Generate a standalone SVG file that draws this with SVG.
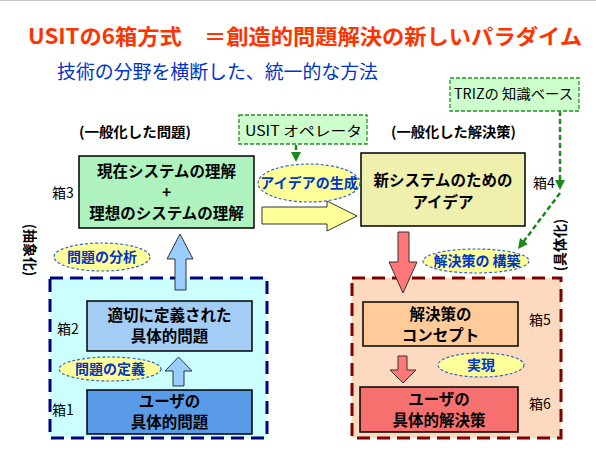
<svg xmlns="http://www.w3.org/2000/svg" width="596" height="450" viewBox="0 0 596 450">
<style>
text{font-family:"Noto Sans CJK JP","Liberation Sans",sans-serif;}
.bx{stroke:#000;stroke-width:1.5;}
.bt{font-size:15.5px;font-weight:bold;fill:#000;text-anchor:middle;}
.lb{font-size:14px;fill:#000;}
.hd{font-size:14px;font-weight:bold;fill:#000;}
.el{fill:#ffff99;stroke:#3366cc;stroke-width:1.2;stroke-dasharray:3 2;}
.et{font-size:14px;font-weight:bold;fill:#0033cc;text-anchor:middle;}
.gb{fill:#ccffcc;stroke:#2a8a2a;stroke-width:1.3;stroke-dasharray:4 2;}
.gl{stroke:#1a8a1a;stroke-width:2.5;stroke-dasharray:5 3;fill:none;}
.ar{stroke:#333;stroke-width:1;}
</style>
<defs>
<marker id="ga" viewBox="0 0 10 10" refX="2" refY="5" markerWidth="10" markerHeight="10" orient="auto" markerUnits="userSpaceOnUse">
<path d="M0,0 L10,5 L0,10z" fill="#1a8a1a"/>
</marker>
</defs>
<rect x="0" y="0" width="596" height="450" fill="#fff"/>
<line x1="0" y1="0.5" x2="596" y2="0.5" stroke="#c8c8c8"/>

<text x="28" y="44" font-size="21" font-weight="bold" fill="#ff3300" textLength="554" lengthAdjust="spacingAndGlyphs">USITの6箱方式　＝創造的問題解決の新しいパラダイム</text>
<text x="57" y="79" font-size="19" fill="#0033cc" textLength="321" lengthAdjust="spacingAndGlyphs">技術の分野を横断した、統一的な方法</text>

<g id="region-abstract">
<rect x="50" y="278" width="217" height="160" fill="#ccffff" stroke="#000080" stroke-width="3" stroke-dasharray="13 7"/>
</g>
<g id="region-concrete">
<rect x="352" y="278" width="209" height="160" fill="#fdd9bf" stroke="#800000" stroke-width="3" stroke-dasharray="13 7"/>
</g>

<g id="connectors">
<polygon class="ar" points="180,234 193,259 186,259 186,290 175,290 175,259 167,259" fill="#99ccff"/>
<polygon class="ar" points="178.5,357 192,371 184,371 184,386 173,386 173,371 165,371" fill="#99ccff"/>
<polygon class="ar" points="262,207 327,207 327,201 357,216 327,231 327,224 262,224" fill="#ffff99" stroke="#777"/>
<polygon class="ar" points="398,232 409,232 409,262 417,262 403,293 389,262 398,262" fill="#ff7777"/>
<polygon class="ar" points="398,356 407,356 407,370 416,370 403,383 390,370 398,370" fill="#ff7777"/>
<line class="gl" x1="296" y1="145" x2="296" y2="154" marker-end="url(#ga)"/>
<line class="gl" x1="560" y1="111" x2="560" y2="182" marker-end="url(#ga)"/>
<line class="gl" x1="560" y1="193" x2="522.8" y2="242.6" marker-end="url(#ga)"/>
</g>

<g id="triz">
<rect class="gb" x="450" y="78" width="129" height="33"/>
<text class="lb" x="454" y="99" textLength="119" lengthAdjust="spacingAndGlyphs">TRIZの 知識ベース</text>
</g>
<g id="usit-op">
<rect class="gb" x="239" y="115" width="128" height="29"/>
<text class="lb" x="245" y="136" font-size="15" textLength="117" lengthAdjust="spacingAndGlyphs">USIT オペレータ</text>
</g>

<text class="hd" x="79" y="137" textLength="112" lengthAdjust="spacingAndGlyphs">(一般化した問題)</text>
<text class="hd" x="391" y="137" textLength="125" lengthAdjust="spacingAndGlyphs">(一般化した解決策)</text>
<text class="hd" transform="translate(31,250) rotate(90)" text-anchor="middle" dominant-baseline="central">(抽象化)</text>
<text class="hd" transform="translate(558.5,245) rotate(-90)" text-anchor="middle" dominant-baseline="central">(具体化)</text>

<g id="box3">
<rect class="bx" x="79" y="156" width="175" height="72" fill="#aef3bd"/>
<text class="bt" x="166.5" y="177">現在システムの理解</text>
<text class="bt" x="166.5" y="198" font-size="14" font-weight="normal">+</text>
<text class="bt" x="166.5" y="219">理想のシステムの理解</text>
<text class="lb" x="52" y="198">箱3</text>
</g>
<g id="box4">
<rect class="bx" x="361" y="153" width="164" height="73" fill="#efefae"/>
<text class="bt" x="443" y="186">新システムのための</text>
<text class="bt" x="443" y="208">アイデア</text>
<text class="lb" x="533" y="188">箱4</text>
</g>
<g id="box2">
<rect class="bx" x="87" y="301" width="165" height="50" fill="#a3cdf5"/>
<text class="bt" x="169.5" y="321">適切に定義された</text>
<text class="bt" x="169.5" y="342">具体的問題</text>
<text class="lb" x="57" y="334">箱2</text>
</g>
<g id="box1">
<rect class="bx" x="87" y="390" width="165" height="44" fill="#5a9be8"/>
<text class="bt" x="169.5" y="407">ユーザの</text>
<text class="bt" x="169.5" y="428">具体的問題</text>
<text class="lb" x="52" y="415">箱1</text>
</g>
<g id="box5">
<rect class="bx" x="363" y="302" width="155" height="44" fill="#ffcc99"/>
<text class="bt" x="440.5" y="320">解決策の</text>
<text class="bt" x="440.5" y="341">コンセプト</text>
<text class="lb" x="529" y="325">箱5</text>
</g>
<g id="box6">
<rect class="bx" x="360" y="387" width="158" height="45" fill="#f77070"/>
<text class="bt" x="439" y="405">ユーザの</text>
<text class="bt" x="439" y="426">具体的解決策</text>
<text class="lb" x="529" y="409">箱6</text>
</g>

<g id="e-idea">
<ellipse class="el" cx="309" cy="183" rx="51" ry="19"/>
<text class="et" x="309" y="188">アイデアの生成</text>
</g>
<g id="e-analysis">
<ellipse class="el" cx="102" cy="257" rx="48" ry="14"/>
<text class="et" x="102" y="262" font-size="15">問題の分析</text>
</g>
<g id="e-define">
<ellipse class="el" cx="110" cy="369" rx="51" ry="12"/>
<text class="et" x="110" y="374" font-size="15">問題の定義</text>
</g>
<g id="e-build">
<ellipse class="el" cx="476" cy="261" rx="53" ry="12"/>
<text class="et" x="477" y="266">解決策の 構築</text>
</g>
<g id="e-realize">
<ellipse class="el" cx="481" cy="365" rx="43" ry="12"/>
<text class="et" x="481" y="370" font-size="15">実現</text>
</g>
</svg>
